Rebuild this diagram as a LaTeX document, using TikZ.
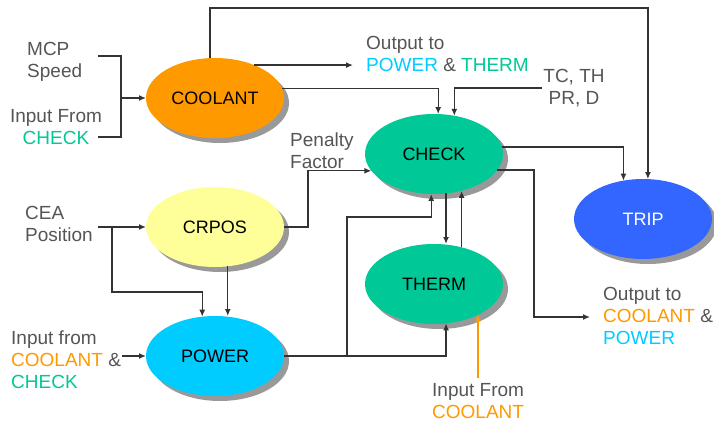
\documentclass[tikz,border=0pt]{standalone}
\usepackage{fontspec}
\setmainfont{Liberation Sans}
\usetikzlibrary{arrows.meta,shapes.geometric,shadows,calc}
\definecolor{lbltext}{HTML}{555555}
\definecolor{linec}{HTML}{333333}
\definecolor{cgreen}{HTML}{00C896}
\definecolor{cpow}{HTML}{00CCFF}
\definecolor{corange}{HTML}{FF9900}
\definecolor{cyellow}{HTML}{FFFF99}
\definecolor{cblue}{HTML}{3366FF}
\begin{document}
\begin{tikzpicture}[x=1pt,y=-1pt,
  every node/.style={font=\fontsize{18}{22}\selectfont},
  proc/.style={ellipse, minimum width=138pt, minimum height=80pt,
    inner sep=0pt, outer sep=0pt, text=black,
    drop shadow={shadow xshift=5pt, shadow yshift=-5pt, fill=black!40, opacity=1}},
  lbl/.style={text=lbltext, inner sep=0pt, align=left, anchor=west,
    font=\fontsize{19}{22}\selectfont},
  wire/.style={draw=linec, line width=1.4pt},
  arr/.style={wire, -{Latex[length=7pt,width=6pt]}}]
\useasboundingbox (0,0) rectangle (714,423);

% processes
\node[proc, fill=corange] (coolant) at (215,98) {COOLANT};
\node[proc, fill=cgreen] (check) at (434,154) {CHECK};
\node[proc, fill=cblue, text=white] (trip) at (643,219) {TRIP};
\node[proc, fill=cgreen] (therm) at (434,284) {THERM};
\node[proc, fill=cyellow] (crpos) at (215,227) {CRPOS};
\node[proc, fill=cpow] (power) at (215,356) {POWER};

% labels
\node[lbl] (mcp) at (27,62) {MCP\\Speed};
\node[lbl, anchor=center, align=center] (inchk) at (56,127) {Input From\\\textcolor{cgreen}{CHECK}};
\node[lbl] (pen) at (290,151) {Penalty\\Factor};
\node[lbl] (cea) at (25,224) {CEA\\Position};
\node[lbl] (inpow) at (11,360) {Input from\\\textcolor{corange}{COOLANT} \&\\\textcolor{cgreen}{CHECK}};
\node[lbl] (outpt) at (366,54) {Output to\\\textcolor{cpow}{POWER} \& \textcolor{cgreen}{THERM}};
\node[lbl, anchor=center, align=center] (tc) at (574,88) {TC, TH\\PR, D};
\node[lbl] (outck) at (603,316) {Output to\\\textcolor{corange}{COOLANT} \&\\\textcolor{cpow}{POWER}};
\node[lbl] (inth) at (432,401) {Input From\\\textcolor{corange}{COOLANT}};

% helper points
\coordinate (b1) at (98,56);
\coordinate (b2) at (98,137);
\coordinate (bj) at (121,98);
\coordinate (topy) at (0,8);
\coordinate (outA) at (353,0);
\coordinate (tcin) at (542,88);
\coordinate (penx) at (308,0);
\coordinate (ceain) at (98,227);
\coordinate (ceaj) at (112,227);
\coordinate (ceay) at (0,292);
\coordinate (inp) at (122,356);
\coordinate (jpx) at (347,0);
\coordinate (jpy) at (0,217);
\coordinate (outx) at (534,0);
\coordinate (outB) at (590,317);
\coordinate (inT) at (478,378);

% inputs to COOLANT
\draw[wire] (b1) -| (bj) |- (b2);
\draw[arr] (bj) -- (coolant.west);

% COOLANT outputs
\draw[arr] (coolant.97) |- (trip.83 |- topy) -- (trip.83);
\draw[arr] (coolant.40) -- (coolant.40 -| outA);
\draw[arr] (coolant.8) -| (check.84);
\draw[arr] (tcin) -| (check.62);

% CRPOS and CEA position
\draw[arr] (crpos.east) -| (penx |- check.195) -- (check.195);
\draw[arr] (ceain) -- (crpos.west);
\draw[arr] (ceaj) |- (power.108 |- ceay) -- (power.108);
\draw[arr] (crpos.288) -- (crpos.288 |- power.north);
\draw[arr] (inp) -- (power.west);

% POWER outputs
\draw[arr] (power.east) -| (therm.287);
\draw[arr] (jpx |- power.east) |- (check.266 |- jpy) -- (check.266);

% CHECK <-> THERM
\draw[arr] (check.-73.5) -- (check.-73.5 |- therm.north);
\draw[arr] (therm.53) -- (therm.53 |- check.-54.3);

% CHECK outputs
\draw[arr] (check.6) -| (trip.117);
\draw[arr] (check.-14) -| (outx |- outB) -- (outB);

% external input to THERM
\draw[arr, draw=corange] (inT) -- (inT |- therm.-34);
\end{tikzpicture}
\end{document}
